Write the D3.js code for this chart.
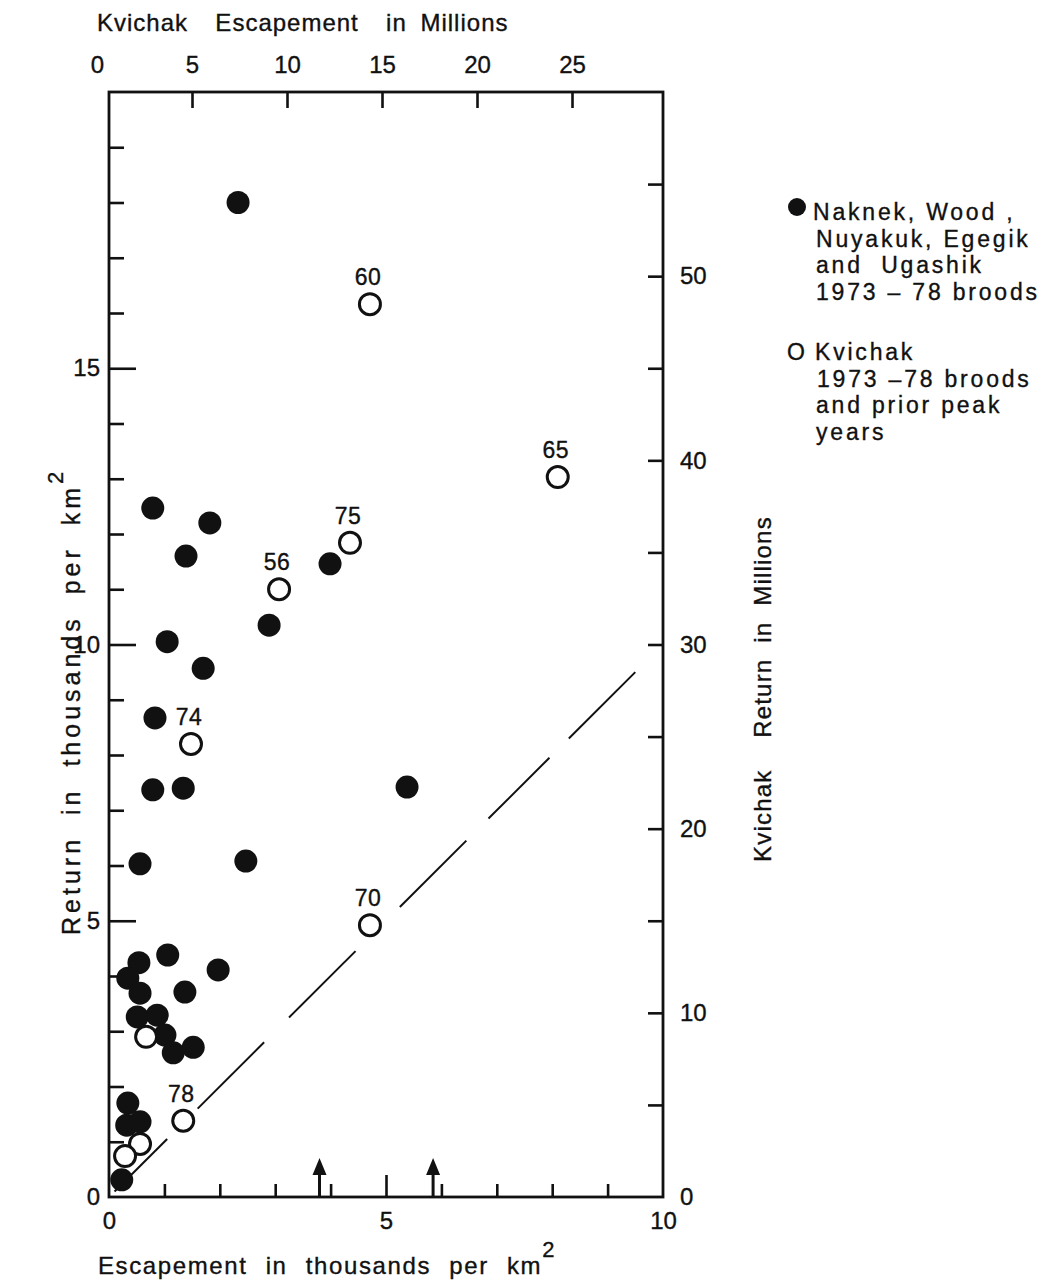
<!DOCTYPE html>
<html><head><meta charset="utf-8">
<script src="https://cdn.jsdelivr.net/npm/d3@7"></script>
<style>
body{margin:0;background:#fff}
svg text{font-family:"Liberation Sans",Arial,Helvetica,sans-serif;fill:#111;white-space:pre;stroke:#111;stroke-width:0.35px}
</style>
</head><body>
<svg id="chart" width="1060" height="1286"></svg>
<script>
// ---- data (escapement in thousands per km2, return in thousands per km2)
const filledX = [2.33,0.79,1.82,1.39,3.99,1.05,2.89,1.70,0.83,0.79,1.34,5.38,0.56,2.47,1.06,0.54,1.97,0.34,0.56,1.37,0.51,0.87,1.01,1.16,1.52,0.34,0.32,0.56,0.23];
const filledY = [18.0,12.47,12.2,11.6,11.46,10.05,10.35,9.57,8.67,7.37,7.40,7.42,6.03,6.08,4.38,4.24,4.11,3.96,3.69,3.71,3.26,3.29,2.93,2.61,2.71,1.70,1.30,1.36,0.31];
const openX = [4.71,8.10,4.35,3.07,1.48,4.71,0.67,1.34,0.56,0.29];
const openY = [16.16,13.03,11.84,11.0,8.2,4.92,2.90,1.38,0.96,0.74];
const openLabel = ["60","65","75","56","74","70","","78","",""];
// replacement line y = x, drawn as hand-cut dashes (start/end in data units)
const dashFrom = [0.1,1.6,3.25,5.25,6.85,8.3];
const dashTo   = [1.05,2.8,4.45,6.45,7.95,9.5];
const arrowX = [3.8,5.85];
const leftLabels = [0,5,10,15];
const bottomLabels = [0,5,10];
const topLabels = [0,5,10,15,20,25];
const topTicks = [5,10,15,20,25];
const rightLabels = [0,10,20,30,40,50];
const rightTicks = [5,10,15,20,25,30,35,40,45,50,55];

const svg = d3.select("#chart");
svg.append("rect").attr("width",1060).attr("height",1286).attr("fill","#fff");

const x = d3.scaleLinear().domain([0,10]).range([109,663]);
const y = d3.scaleLinear().domain([0,20]).range([1197,92]);
// top scale as drawn on the original (hand-ruled, slightly offset)
const xTop = d3.scaleLinear().domain([0,25]).range([97,572]);
const yRight = d3.scaleLinear().domain([0,60]).range(y.range());

const ink = "#111";
const FONT = "Liberation Sans, Arial, sans-serif";

function strip(g){ g.select(".domain").remove(); g.selectAll(".tick line").attr("stroke",ink).attr("stroke-width",2.6); g.selectAll(".tick text").attr("fill",ink).attr("font-size",24).attr("font-family",FONT); }

// left axis ticks (inward)
svg.append("g").attr("transform",`translate(${x(0)},0)`)
  .call(d3.axisRight(y).tickValues(d3.range(1,20).filter(v=>v%5)).tickSize(15).tickFormat("")).call(strip);
svg.append("g").attr("transform",`translate(${x(0)},0)`)
  .call(d3.axisRight(y).tickValues([5,10,15]).tickSize(27).tickFormat("")).call(strip);
svg.append("g").attr("transform",`translate(${x(0)-4},0)`)
  .call(d3.axisLeft(y).tickValues(leftLabels).tickSize(0).tickPadding(5)).call(strip);

// bottom axis ticks (inward)
svg.append("g").attr("transform",`translate(0,${y(0)})`)
  .call(d3.axisTop(x).tickValues(d3.range(1,10).filter(v=>v!==5)).tickSize(13).tickFormat("")).call(strip);
svg.append("g").attr("transform",`translate(0,${y(0)})`)
  .call(d3.axisTop(x).tickValues([5]).tickSize(22).tickFormat("")).call(strip);
svg.append("g").attr("transform",`translate(0,${y(0)+9})`)
  .call(d3.axisBottom(x).tickValues(bottomLabels).tickSize(0).tickPadding(6)).call(strip);

// top axis (Kvichak escapement in millions)
svg.append("g").attr("transform",`translate(0,${y(20)})`)
  .call(d3.axisBottom(xTop).tickValues(topTicks).tickSize(16).tickFormat("")).call(strip);
svg.append("g").attr("transform",`translate(0,${y(20)-15})`)
  .call(d3.axisTop(xTop).tickValues(topLabels).tickSize(0).tickPadding(4)).call(strip);

// right axis (Kvichak return in millions)
svg.append("g").attr("transform",`translate(${x(10)},0)`)
  .call(d3.axisLeft(yRight).tickValues(rightTicks).tickSize(15).tickFormat("")).call(strip);
svg.append("g").attr("transform",`translate(${x(10)+13},0)`)
  .call(d3.axisRight(yRight).tickValues(rightLabels).tickSize(0).tickPadding(4)).call(strip);

// frame
svg.append("rect").attr("x",x(0)).attr("y",y(20)).attr("width",x(10)-x(0)).attr("height",y(0)-y(20))
  .attr("fill","none").attr("stroke",ink).attr("stroke-width",2.8);

// arrows on bottom axis
arrowX.forEach(v=>{
  const ax = x(v), ay = y(0);
  svg.append("line").attr("x1",ax).attr("x2",ax).attr("y1",ay).attr("y2",ay-26).attr("stroke",ink).attr("stroke-width",3);
  svg.append("path").attr("d",`M${ax-7},${ay-22} L${ax},${ay-39} L${ax+7},${ay-22} Z`).attr("fill",ink);
});

// dashed 1:1 line
svg.append("g").selectAll("line").data(dashFrom).join("line")
  .attr("x1",(d)=>x(d)).attr("y1",(d)=>y(d))
  .attr("x2",(d,i)=>x(dashTo[i])).attr("y2",(d,i)=>y(dashTo[i]))
  .attr("stroke",ink).attr("stroke-width",2);

// filled points
svg.append("g").selectAll("circle").data(filledX).join("circle")
  .attr("cx",d=>x(d)).attr("cy",(d,i)=>y(filledY[i])).attr("r",11.5).attr("fill",ink);

// open points
const og = svg.append("g");
og.selectAll("circle").data(openX).join("circle")
  .attr("cx",d=>x(d)).attr("cy",(d,i)=>y(openY[i])).attr("r",10.5).attr("fill","#fff")
  .attr("stroke",ink).attr("stroke-width",3);
og.selectAll("text").data(openX).join("text")
  .attr("x",d=>x(d)-2).attr("y",(d,i)=>y(openY[i])-19)
  .attr("text-anchor","middle").attr("font-size",23).attr("letter-spacing",0.5)
  .text((d,i)=>openLabel[i]);

// axis titles
svg.append("text").attr("x",97).attr("y",31).attr("font-size",24).attr("letter-spacing",1.0).attr("word-spacing",6)
  .text("Kvichak  Escapement  in Millions");

const bt = svg.append("text").attr("x",98).attr("y",1274).attr("font-size",24).attr("letter-spacing",1.6).attr("word-spacing",10);
bt.append("tspan").text("Escapement in thousands per km");
bt.append("tspan").attr("dy",-17).attr("font-size",22).text("2");

const lt = svg.append("text").attr("transform","translate(80,935) rotate(-90)").attr("font-size",25).attr("letter-spacing",4).attr("word-spacing",10);
lt.append("tspan").text("Return in thousands per km");
lt.append("tspan").attr("dy",-17).attr("font-size",22).text("2");

svg.append("text").attr("transform","translate(771,862) rotate(-90)").attr("font-size",24).attr("letter-spacing",1.2).attr("word-spacing",8)
  .text("Kvichak  Return in Millions");

// legend
const leg = svg.append("g");
leg.append("circle").attr("cx",797).attr("cy",207).attr("r",9).attr("fill",ink);
const l1 = ["Naknek, Wood ,","Nuyakuk, Egegik","and  Ugashik","1973 – 78 broods"];
const l1x = [813,816,816,816];
leg.selectAll("text.a").data(l1).join("text").attr("class","a")
  .attr("x",(d,i)=>l1x[i]).attr("y",(d,i)=>220+i*26.5).attr("font-size",23).attr("letter-spacing",2.8)
  .text(d=>d);
leg.append("text").attr("x",787).attr("y",360).attr("font-size",23).text("O");
const l2 = ["Kvichak","1973 –78 broods","and prior peak","years"];
const l2x = [815,817,816,816];
leg.selectAll("text.b").data(l2).join("text").attr("class","b")
  .attr("x",(d,i)=>l2x[i]).attr("y",(d,i)=>360+i*26.5).attr("font-size",23).attr("letter-spacing",2.8)
  .text(d=>d);
</script>
</body></html>
